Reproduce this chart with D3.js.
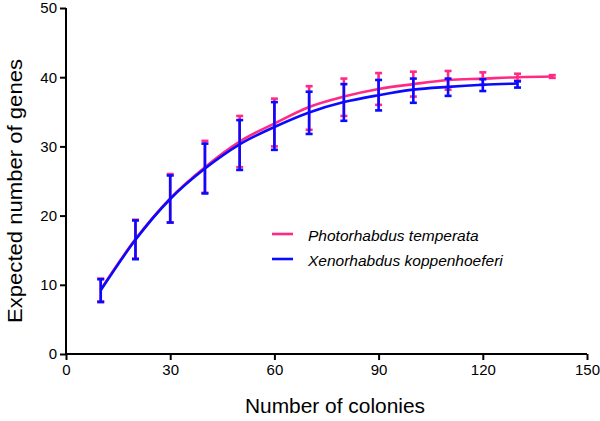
<!DOCTYPE html>
<html>
<head>
<meta charset="utf-8">
<script src="https://cdn.jsdelivr.net/npm/d3@7"></script>
<style>
body { margin: 0; background: #fff; }
svg { display: block; font-family: "Liberation Sans", Arial, sans-serif; }
</style>
</head>
<body>
<svg id="chart" width="600" height="421"></svg>
<script>
const xTicks = [0, 30, 60, 90, 120, 150];
const yTicks = [0, 10, 20, 30, 40, 50];

const colonies = [10, 20, 30, 40, 50, 60, 70, 80, 90, 100, 110, 120, 130, 140];

const photoMean = [9.3, 16.6, 22.5, 27.0, 30.7, 33.3, 35.7, 37.2, 38.3, 39.0, 39.6, 39.8, 40.0, 40.1];
const photoLow  = [7.6, 13.8, 19.0, 23.3, 27.0, 30.0, 32.4, 34.4, 36.0, 37.2, 38.2, 38.9, 39.5, 39.9];
const photoHigh = [10.9, 19.4, 26.0, 30.8, 34.4, 36.9, 38.7, 39.8, 40.6, 40.8, 40.9, 40.7, 40.5, 40.3];

const xenoMean = [9.2, 16.5, 22.4, 26.8, 30.3, 32.8, 34.9, 36.4, 37.4, 38.2, 38.6, 38.9, 39.1];
const xenoLow  = [7.5, 13.7, 19.0, 23.2, 26.6, 29.5, 31.8, 33.7, 35.2, 36.3, 37.3, 38.0, 38.5];
const xenoHigh = [10.8, 19.3, 25.8, 30.4, 33.8, 36.4, 37.9, 39.0, 39.6, 39.8, 39.8, 39.7, 39.4];

const seriesNames = ["Photorhabdus temperata", "Xenorhabdus koppenhoeferi"];
const colors = ["#ff2a86", "#0a0aff"];

const svg = d3.select("#chart");
const x = d3.scaleLinear().domain([0, 150]).range([66, 587]);
const y = d3.scaleLinear().domain([0, 50]).range([354, 8]);

// axes
const xAxis = svg.append("g").attr("transform", "translate(0,354)")
  .call(d3.axisBottom(x).tickValues(xTicks).tickSize(6).tickPadding(4));
const yAxis = svg.append("g").attr("transform", "translate(66,0)")
  .call(d3.axisLeft(y).tickValues(yTicks).tickSize(6).tickPadding(3));
[xAxis, yAxis].forEach(g => {
  g.selectAll("path, line").attr("stroke", "#000").attr("stroke-width", 2);
  g.selectAll("text").attr("font-size", 15).attr("fill", "#000")
    .attr("font-family", "'Liberation Sans', Arial, sans-serif");
  g.select(".domain").attr("d", g === xAxis ? "M66,0H587" : "M0,354V8");
});

svg.append("text").attr("x", 335).attr("y", 413).attr("text-anchor", "middle")
  .attr("font-size", 20).attr("textLength", 180).attr("lengthAdjust", "spacingAndGlyphs")
  .text("Number of colonies");
svg.append("text").attr("transform", "translate(22,191) rotate(-90)")
  .attr("text-anchor", "middle").attr("font-size", 21)
  .attr("textLength", 264).attr("lengthAdjust", "spacingAndGlyphs")
  .text("Expected number of genes");

function drawSeries(xs, mean, low, high, color) {
  const g = svg.append("g");
  const pts = xs.slice(0, mean.length).map((c, i) => ({ c, m: mean[i], lo: low[i], hi: high[i] }));
  g.append("path").datum(pts)
    .attr("d", d3.line().x(d => x(d.c)).y(d => y(d.m)).curve(d3.curveMonotoneX))
    .attr("fill", "none").attr("stroke", color).attr("stroke-width", 2.6);
  const eb = g.selectAll("g.eb").data(pts).join("g");
  eb.append("line").attr("x1", d => x(d.c)).attr("x2", d => x(d.c))
    .attr("y1", d => y(d.lo)).attr("y2", d => y(d.hi))
    .attr("stroke", color).attr("stroke-width", 2.6);
  eb.append("line").attr("x1", d => x(d.c) - 3.5).attr("x2", d => x(d.c) + 3.5)
    .attr("y1", d => y(d.hi)).attr("y2", d => y(d.hi))
    .attr("stroke", color).attr("stroke-width", 2.6);
  eb.append("line").attr("x1", d => x(d.c) - 3.5).attr("x2", d => x(d.c) + 3.5)
    .attr("y1", d => y(d.lo)).attr("y2", d => y(d.lo))
    .attr("stroke", color).attr("stroke-width", 2.6);
}
drawSeries(colonies, photoMean, photoLow, photoHigh, colors[0]);
drawSeries(colonies, xenoMean, xenoLow, xenoHigh, colors[1]);

// legend
const leg = svg.append("g");
seriesNames.forEach((n, i) => {
  const yy = 234 + i * 25;
  leg.append("line").attr("x1", 272).attr("x2", 293).attr("y1", yy).attr("y2", yy)
    .attr("stroke", colors[i]).attr("stroke-width", 2.6);
  leg.append("text").attr("x", 308).attr("y", yy + 6.5).attr("font-size", 15.5)
    .attr("font-style", "italic").text(n);
});
</script>
</body>
</html>
